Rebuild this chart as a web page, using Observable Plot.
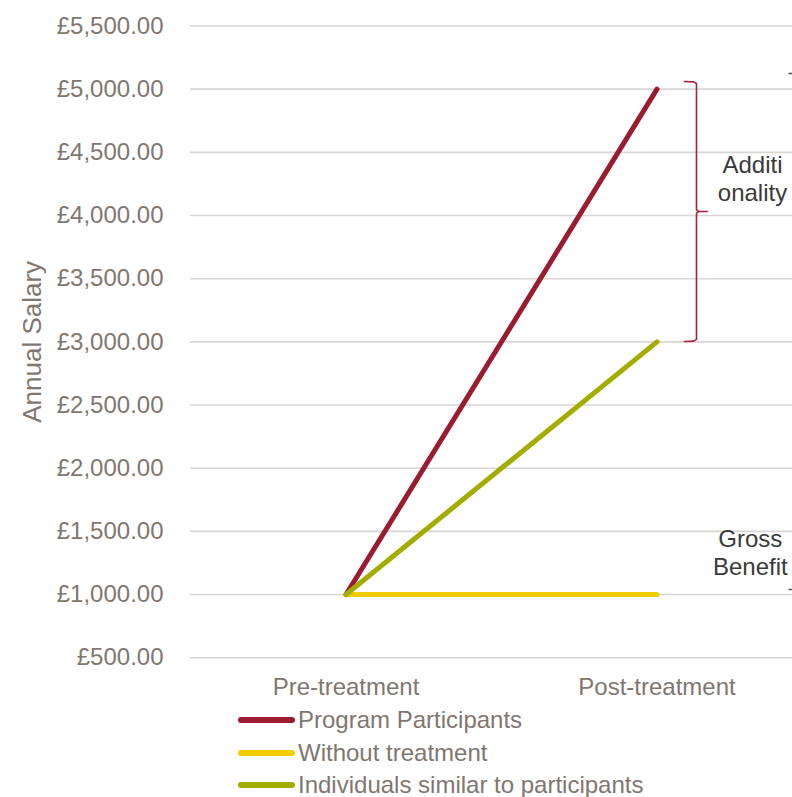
<!DOCTYPE html>
<html>
<head>
<meta charset="utf-8">
<script src="https://cdn.jsdelivr.net/npm/d3@7"></script>
<script src="https://cdn.jsdelivr.net/npm/@observablehq/plot@0.6"></script>
<style>
  html, body { margin: 0; padding: 0; background: #fff; }
  #chart { width: 792px; }
  .legend { font-family: "Liberation Sans", Arial, sans-serif; font-size: 24px; color: #7f776f; padding-top: 4px; }
  .legend .row { display: flex; align-items: center; height: 32.5px; }
  .legend .sw { margin-left: 238px; width: 57px; height: 6px; border-radius: 3px; margin-right: 3px; }
</style>
</head>
<body>
<div id="chart"></div>
<script>
// ---- data ----
const categories = ["Pre-treatment", "Post-treatment"];
const seriesNames = ["Program Participants", "Without treatment", "Individuals similar to participants"];
const seriesColors = ["#9b1b30", "#f2cd00", "#a3ad00"];
const programParticipants = [1000, 5000];
const withoutTreatment = [1000, 1000];
const similarIndividuals = [1000, 3000];
const yTicks = [500, 1000, 1500, 2000, 2500, 3000, 3500, 4000, 4500, 5000, 5500];
const yLabel = "Annual Salary";

// annotation: additionality brace (x in category-index units, y in £)
const braceX = [1.088, 1.118, 1.127, 1.127, 1.135, 1.162, 1.135, 1.127, 1.127, 1.118, 1.088];
const braceY = [5061, 5058, 5045, 4045, 4032, 4032, 4032, 4019, 3020, 3006, 3003];
const additionalityLabel = {x: 1.307, y: 4300, text: "Additi\nonality"};
const grossLabel = {x: 1.30, y: 1336, text: "Gross\nBenefit"};
const grossTicksY = [5124, 1040];
const grossTickX = [1.423, 1.46];

// ---- build tables ----
const seriesValues = [programParticipants, withoutTreatment, similarIndividuals];
const rows = [];
seriesNames.forEach((s, k) => seriesValues[k].forEach((v, i) => rows.push({series: s, i, value: v})));
const brace = braceX.map((x, j) => ({x, y: braceY[j]}));
const grossTicks = grossTicksY.map(y => ({x1: grossTickX[0], x2: grossTickX[1], y}));

const FONT = "Liberation Sans, Arial, sans-serif";
const FS = 24;
const TXT = "#7f776f";

const chart = Plot.plot({
  width: 792,
  height: 700,
  marginLeft: 190,
  marginRight: 0,
  marginTop: 25.5,
  marginBottom: 42.8,
  style: {fontFamily: FONT, fontSize: FS + "px", color: TXT, background: "#fff"},
  x: {type: "linear", domain: [0, 1], range: [345.5, 656.5]},
  y: {domain: [500, 5500]},
  color: {domain: seriesNames, range: seriesColors},
  marks: [
    Plot.gridY(yTicks, {stroke: "#d9d6d3", strokeOpacity: 1, strokeWidth: 1.6}),
    Plot.axisY({ticks: yTicks, tickFormat: d => "£" + d3.format(",.2f")(d), tickSize: 0, tickPadding: 27,
      fontSize: FS, fill: TXT, label: null}),
    Plot.text([yLabel], {frameAnchor: "left", dx: -158, rotate: -90, fontSize: 26, fill: TXT,
      fontFamily: FONT, textAnchor: "middle"}),
    Plot.axisX({ticks: [0, 1], tickFormat: i => categories[i], tickSize: 0, tickPadding: 20,
      fontSize: FS, fill: TXT, label: null}),
    Plot.line(rows, {x: "i", y: "value", z: "series", stroke: "series", strokeWidth: 5, strokeLinecap: "round"}),
    Plot.line(brace, {x: "x", y: "y", stroke: "#a3243d", strokeWidth: 1.6, curve: "linear"}),
    Plot.link(grossTicks, {x1: "x1", x2: "x2", y1: "y", y2: "y", stroke: "#595959", strokeWidth: 1.6}),
    Plot.text([additionalityLabel, grossLabel], {x: "x", y: "y", text: "text", fontSize: FS, fill: "#3a3a3a",
      lineHeight: 1.17, textAnchor: "middle", fontFamily: FONT})
  ]
});
document.getElementById("chart").appendChild(chart);

const legend = document.createElement("div");
legend.className = "legend";
seriesNames.forEach((s, k) => {
  const row = document.createElement("div");
  row.className = "row";
  const sw = document.createElement("span");
  sw.className = "sw";
  sw.style.background = seriesColors[k];
  const t = document.createElement("span");
  t.textContent = s;
  row.appendChild(sw); row.appendChild(t);
  legend.appendChild(row);
});
document.getElementById("chart").appendChild(legend);
</script>
</body>
</html>
